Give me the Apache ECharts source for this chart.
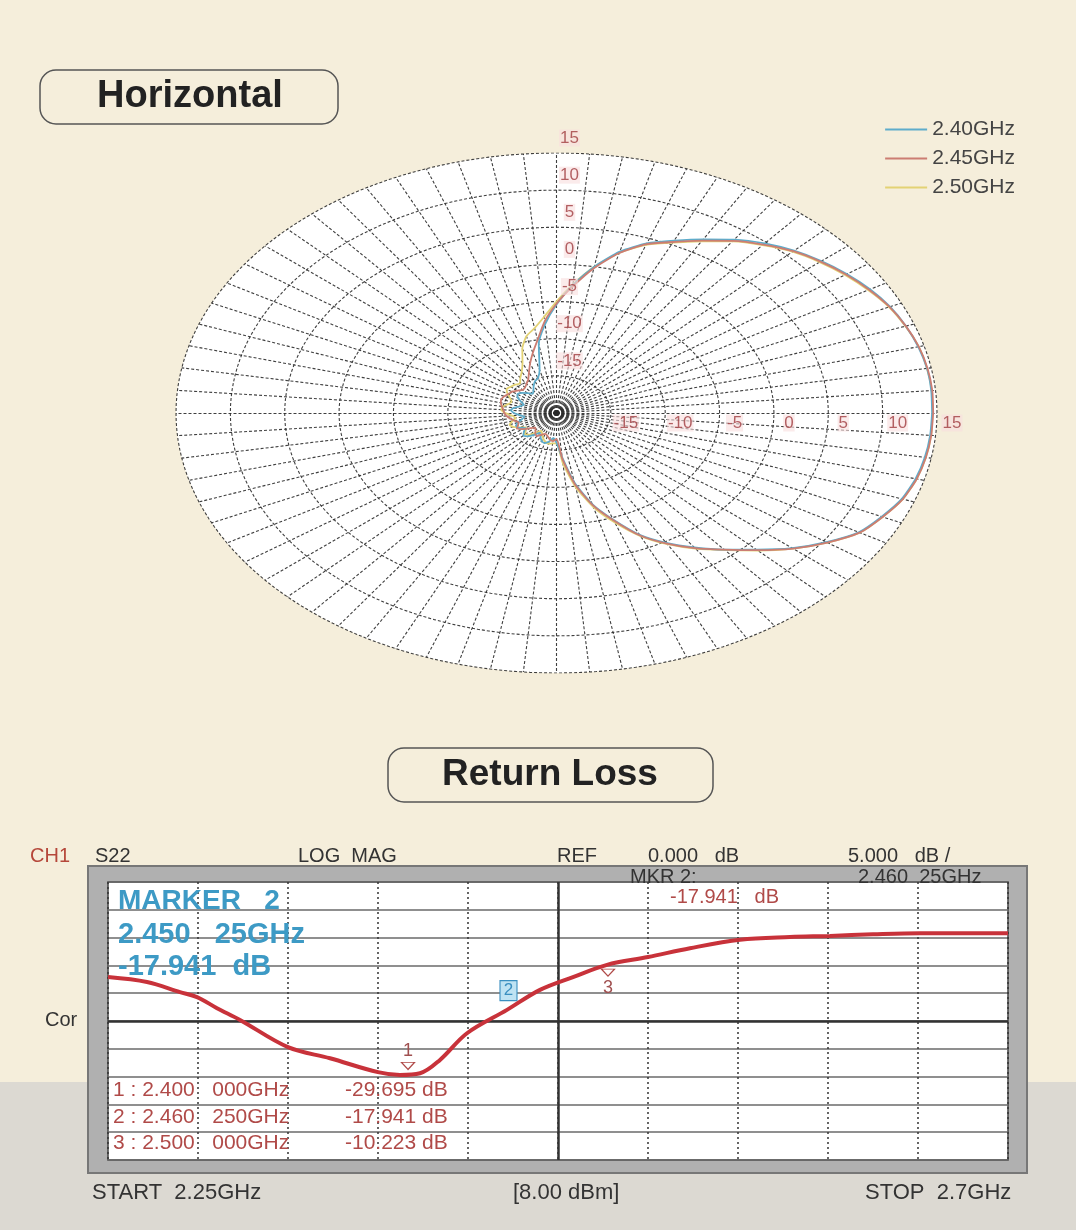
<!DOCTYPE html>
<html>
<head>
<meta charset="utf-8">
<script src="https://cdn.jsdelivr.net/npm/echarts@6/dist/echarts.min.js"></script>
<style>
  html, body { margin: 0; padding: 0; background: #f5eedb; }
  #main { width: 1076px; height: 1230px; }
</style>
</head>
<body>
<div id="main"></div>
<script>
// ---- horizontal radiation pattern (dB vs azimuth, deg ccw from right) ----
var angleDeg = [0,5,10,15,20,25,30,35,40,45,50,55,60,65,70,75,80,85,90,95,100,105,110,115,
  120,125,130,135,140,145,150,155,160,165,170,175,180,185,190,195,200,205,210,215,220,225,230,235,
  240,245,250,255,260,265,270,275,280,285,290,295,300,305,310,315,320,325,330,335,340,345,350,355];

var gain240 = [14.55,14.6,14.6,14.45,14.2,13.85,13.3,12.6,11.8,10.9,9.8,8.5,7.0,5.6,4.3,2.5,0.0,-2.7,-5.4,-8.0,-10.6,-14.0,-15.0,-15.3,
  -15.8,-16.3,-16.6,-16.2,-15.8,-15.6,-15.9,-16.4,-16.8,-16.5,-16.0,-15.8,-16.1,-16.6,-17.0,-16.7,-16.2,-15.9,-16.0,-16.5,-16.1,-15.7,-15.9,-16.4,
  -16.9,-16.5,-16.0,-15.8,-16.1,-16.6,-16.0,-14.0,-10.5,-7.3,-4.7,-1.9,0.2,2.1,4.0,6.0,8.3,10.3,12.1,13.0,13.8,14.2,14.4,14.5];

var gain245 = [14.65,14.7,14.65,14.5,14.2,13.8,13.2,12.5,11.7,10.8,9.6,8.3,6.8,5.4,4.2,2.3,-0.2,-2.9,-5.3,-7.6,-10.0,-11.6,-12.9,-14.0,
  -14.8,-15.2,-15.5,-15.6,-15.3,-15.0,-14.9,-14.7,-14.6,-14.7,-14.9,-15.1,-15.2,-15.4,-15.7,-16.0,-16.3,-16.1,-15.8,-16.2,-16.8,-17.2,-17.0,-16.6,
  -16.4,-16.8,-17.0,-16.8,-16.4,-16.2,-16.5,-13.8,-10.3,-7.2,-4.6,-1.8,0.3,2.2,4.0,6.1,8.4,10.4,12.2,13.1,13.9,14.3,14.5,14.6];

var gain250 = [14.6,14.65,14.6,14.5,14.15,13.75,13.1,12.4,11.6,10.7,9.5,8.2,6.7,5.3,4.1,2.3,0.0,-2.6,-5.0,-7.0,-8.4,-9.3,-10.8,-12.6,
  -13.6,-14.2,-14.8,-14.6,-14.5,-14.4,-14.8,-15.3,-15.6,-15.4,-15.0,-14.9,-15.3,-15.9,-16.2,-15.8,-15.4,-15.6,-16.1,-16.6,-16.3,-15.9,-16.2,-16.8,
  -17.2,-16.9,-16.4,-16.0,-15.8,-15.9,-15.9,-13.2,-9.9,-6.9,-4.3,-1.7,0.4,2.3,4.1,6.2,8.4,10.4,12.2,13.1,13.9,14.3,14.5,14.6];

var patternNames = ['2.40GHz', '2.45GHz', '2.50GHz'];
var patternColors = ['#5eaccb', '#cc7d72', '#e3d274'];
var ringLevels = [-15, -10, -5, 0, 5, 10, 15];
var polarMin = -20, polarMax = 15;

// ---- return loss S22 ----
var freqGHz = [2.25, 2.2695, 2.286, 2.2945, 2.3045, 2.316, 2.34, 2.361, 2.385, 2.396, 2.406, 2.416, 2.4295,
  2.4495, 2.466, 2.4825, 2.4995, 2.52, 2.541, 2.566, 2.591, 2.611, 2.6325, 2.656, 2.6825, 2.7];
var s22dB = [-12.1, -13.0, -14.8, -15.7, -17.7, -19.8, -24.7, -26.7, -29.2, -29.7, -29.4, -27.0, -22.2,
  -18.0, -14.4, -12.1, -9.9, -8.5, -6.9, -5.4, -4.9, -4.7, -4.4, -4.2, -4.2, -4.2];
var markerNames = ['1', '2', '3'];
var markerFreq = [2.4, 2.46025, 2.5];
var markerDB = [-29.695, -17.941, -10.223];
var refLineDB = -20;
var centerFreq = 2.475;
var fMin = 2.25, fMax = 2.7, dbMin = -45, dbMax = 5;

var R = polarMax - polarMin;
function toXY(deg, db) {
  var r = db - polarMin, a = deg * Math.PI / 180;
  return [r * Math.cos(a), r * Math.sin(a)];
}
function pattern(g) {
  var pts = angleDeg.map(function (a, i) { return toXY(a, g[i]); });
  pts.push(pts[0]);
  return pts;
}

// polar grid (rings + spokes)
var rings = ringLevels.map(function (lv) {
  var c = [];
  for (var a = 0; a <= 360; a += 2) c.push(toXY(a, lv));
  return { coords: c };
});
var spokes = [];
for (var s = 0; s < 360; s += 5) spokes.push({ coords: [[0, 0], toXY(s, polarMax)] });

var gridDash = { color: '#2a2a2a', width: 1.1, type: [3, 2], opacity: 0.9 };
var font = 'Liberation Sans, Arial, sans-serif';
var axisLabel = {
  show: true, position: 'inside', align: 'center',
  formatter: function (p) { return String(p.value[2]); },
  color: '#a03c40', fontSize: 17, fontFamily: font,
  backgroundColor: 'rgba(248,222,222,0.75)', padding: [0, 1]
};

function txt(x, y, s, o) {
  o = o || {};
  return {
    type: 'text', z: 100, x: x, y: y,
    style: {
      text: s, fill: o.color || '#333', textAlign: o.align || 'left', textVerticalAlign: 'middle',
      font: (o.weight || 'normal') + ' ' + (o.size || 20) + 'px ' + (o.family || font)
    }
  };
}

var chart = echarts.init(document.getElementById('main'));

chart.setOption({
  backgroundColor: '#f5eedb',
  animation: false,
  legend: {
    data: patternNames, orient: 'vertical', right: 56, top: 114,
    icon: 'rect', itemWidth: 42, itemHeight: 2, itemGap: 8, selectedMode: false,
    textStyle: { color: '#444', fontSize: 21, fontFamily: font }
  },
  grid: [
    { left: 176, top: 153, width: 761, height: 520, show: false },
    { left: 108, top: 882, width: 900, height: 278, show: true, borderColor: '#444', borderWidth: 1.5, backgroundColor: 'transparent' }
  ],
  xAxis: [
    { gridIndex: 0, type: 'value', min: -R, max: R, show: false },
    { gridIndex: 1, type: 'value', min: fMin, max: fMax, interval: 0.045,
      axisLine: { show: false }, axisTick: { show: false }, axisLabel: { show: false },
      splitLine: { show: true, lineStyle: { color: '#333', width: 1.5, type: [2, 3] } } }
  ],
  yAxis: [
    { gridIndex: 0, type: 'value', min: -R, max: R, show: false },
    { gridIndex: 1, type: 'value', min: dbMin, max: dbMax, interval: 5,
      axisLine: { show: false }, axisTick: { show: false }, axisLabel: { show: false },
      splitLine: { show: true, lineStyle: { color: '#6a6a6a', width: 1.6 } } }
  ],
  graphic: [
    { type: 'rect', z: -20, shape: { x: 0, y: 1082, width: 1076, height: 148 }, style: { fill: '#dcd9d2' } },
    { type: 'rect', z: -15, shape: { x: 88, y: 866, width: 939, height: 307 }, style: { fill: '#b0b0b0', stroke: '#777', lineWidth: 2 } },
    { type: 'rect', z: -14, shape: { x: 108, y: 882, width: 900, height: 278 }, style: { fill: '#ffffff' } },
    { type: 'rect', z: 100, shape: { x: 40, y: 70, width: 298, height: 54, r: 16 }, style: { fill: 'rgba(0,0,0,0)', stroke: '#555', lineWidth: 1.5 } },
    { type: 'rect', z: 100, shape: { x: 388, y: 748, width: 325, height: 54, r: 16 }, style: { fill: 'rgba(0,0,0,0)', stroke: '#555', lineWidth: 1.5 } },
    txt(190, 97, 'Horizontal', { align: 'center', weight: 'bold', size: 38, color: '#222' }),
    txt(550, 775, 'Return Loss', { align: 'center', weight: 'bold', size: 37, color: '#222' }),
    txt(30, 856, 'CH1', { color: '#b5473a' }),
    txt(95, 856, 'S22'),
    txt(298, 856, 'LOG  MAG'),
    txt(557, 856, 'REF'),
    txt(648, 856, '0.000   dB'),
    txt(848, 856, '5.000   dB /'),
    txt(630, 877, 'MKR 2:'),
    txt(858, 877, '2.460  25GHz'),
    txt(670, 897, '-17.941   dB', { color: '#b04a48' }),
    txt(118, 901, 'MARKER   2', { weight: 'bold', size: 28, color: '#3d9ac5' }),
    txt(118, 935, '2.450   25GHz', { weight: 'bold', size: 29, color: '#3d9ac5' }),
    txt(118, 967, '-17.941  dB', { weight: 'bold', size: 29, color: '#3d9ac5' }),
    txt(113, 1090, '1 : 2.400   000GHz', { color: '#b04a48', size: 21 }),
    txt(113, 1117, '2 : 2.460   250GHz', { color: '#b04a48', size: 21 }),
    txt(113, 1143, '3 : 2.500   000GHz', { color: '#b04a48', size: 21 }),
    txt(345, 1090, '-29.695 dB', { color: '#b04a48', size: 21 }),
    txt(345, 1117, '-17.941 dB', { color: '#b04a48', size: 21 }),
    txt(345, 1143, '-10.223 dB', { color: '#b04a48', size: 21 }),
    txt(45, 1020, 'Cor'),
    txt(92, 1193, 'START  2.25GHz', { size: 22 }),
    txt(513, 1193, '[8.00 dBm]', { size: 22 }),
    txt(865, 1193, 'STOP  2.7GHz', { size: 22 })
  ],
  series: [
    {
      type: 'custom', xAxisIndex: 0, yAxisIndex: 0, z: 1, silent: true,
      data: [[0, 0]],
      renderItem: function (params, api) {
        var pts = [];
        for (var a = 0; a < 360; a += 2) pts.push(api.coord(toXY(a, polarMax)));
        return { type: 'polygon', shape: { points: pts }, style: { fill: '#ffffff' } };
      }
    },
    {
      type: 'lines', coordinateSystem: 'cartesian2d', xAxisIndex: 0, yAxisIndex: 0, polyline: true,
      z: 2, silent: true, lineStyle: gridDash, data: rings
    },
    {
      type: 'lines', coordinateSystem: 'cartesian2d', xAxisIndex: 0, yAxisIndex: 0,
      z: 2, silent: true, lineStyle: gridDash, data: spokes
    }
  ].concat([gain250, gain240, gain245].map(function (g, k) {
    var idx = [2, 0, 1][k];
    return {
      name: patternNames[idx], type: 'line', xAxisIndex: 0, yAxisIndex: 0, z: 3,
      symbol: 'none', smooth: 0.2, color: patternColors[idx],
      lineStyle: { width: 1.8, color: patternColors[idx] },
      data: pattern(g)
    };
  })).concat([
    {
      type: 'scatter', xAxisIndex: 0, yAxisIndex: 0, z: 4, symbolSize: 0, silent: true,
      data: ringLevels.map(function (lv) { return [0, lv - polarMin, lv]; }),
      label: Object.assign({ offset: [13, -15] }, axisLabel)
    },
    {
      type: 'scatter', xAxisIndex: 0, yAxisIndex: 0, z: 4, symbolSize: 0, silent: true,
      data: ringLevels.map(function (lv) { return [lv - polarMin, 0, lv]; }),
      label: Object.assign({ offset: [15, 10] }, axisLabel)
    },
    {
      name: 'S22', type: 'line', xAxisIndex: 1, yAxisIndex: 1, z: 5,
      symbol: 'none', smooth: 0.35,
      lineStyle: { color: '#c8323a', width: 4 },
      data: freqGHz.map(function (f, i) { return [f, s22dB[i]]; }),
      markLine: {
        silent: true, symbol: 'none', label: { show: false },
        lineStyle: { color: '#333', width: 2.5, type: 'solid' },
        data: [
          [{ coord: [centerFreq, dbMin] }, { coord: [centerFreq, dbMax] }],
          [{ coord: [fMin, refLineDB] }, { coord: [fMax, refLineDB] }]
        ]
      },
      markPoint: {
        silent: true,
        data: markerNames.map(function (n, i) {
          var base = { name: n, coord: [markerFreq[i], markerDB[i]] };
          if (n === '2') {
            base.symbol = 'rect'; base.symbolSize = [17, 20]; base.symbolOffset = [-20, -19];
            base.itemStyle = { color: '#bfe3f3', borderColor: '#3a8fc0', borderWidth: 1.2 };
            base.label = { show: true, position: 'inside', formatter: n, color: '#3a8fc0', fontSize: 17, fontFamily: font };
          } else {
            base.symbol = 'triangle'; base.symbolRotate = 180; base.symbolSize = [13, 7];
            base.symbolOffset = n === '1' ? [0, -9] : [0, 6];
            base.itemStyle = { color: 'rgba(0,0,0,0)', borderColor: '#b04a48', borderWidth: 1.2 };
            base.label = { show: true, position: n === '1' ? 'top' : 'bottom', distance: 2, formatter: n,
              color: '#a05050', fontSize: 18, fontFamily: font };
          }
          return base;
        })
      }
    }
  ])
});
</script>
</body>
</html>
